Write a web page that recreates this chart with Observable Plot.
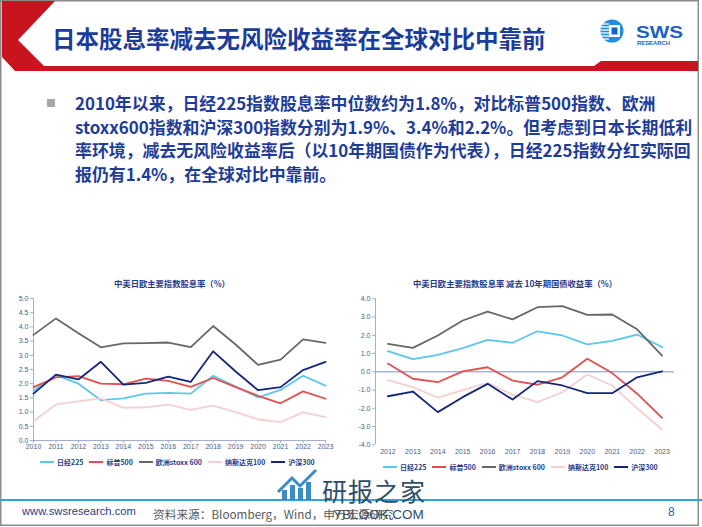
<!DOCTYPE html>
<html><head><meta charset="utf-8">
<script src="https://cdn.jsdelivr.net/npm/d3@7"></script>
<script src="https://cdn.jsdelivr.net/npm/@observablehq/plot@0.6"></script>
<style>
body{margin:0;background:#fff;}
#slide{position:relative;width:702px;height:527px;overflow:hidden;background:#fff;font-family:"Noto Sans CJK SC","Noto Sans",sans-serif;}
.abs{position:absolute;}
.ctr{transform:translate(-50%,-50%);white-space:nowrap;}
#title{left:52px;top:38px;transform:translateY(-50%);font-size:23.5px;font-weight:bold;color:#1b3c9b;white-space:nowrap;}
#para{left:75px;top:91px;font-size:16.9px;line-height:23.7px;font-weight:bold;color:#1f3c99;white-space:nowrap;}
#bullet{left:47px;top:99px;width:8px;height:8px;background:#a6a6a6;}
.ctitle{font-size:8.3px;font-weight:bold;color:#1f3a8a;}
.legend{display:flex;align-items:center;font-size:7px;font-weight:bold;color:#1f3a8a;white-space:nowrap;transform:translateY(-50%);}
.legend .it{display:flex;align-items:center;}
.legend .sw{width:14px;height:2px;margin-right:3px;}
#url{left:22px;top:511px;transform:translateY(-50%);font-family:"Liberation Sans",Arial,sans-serif;font-size:11.2px;color:#1f3c99;}
#src{left:153px;top:513px;transform:translateY(-50%);font-size:11.7px;color:#595959;white-space:nowrap;}
#page{left:668px;top:512px;transform:translateY(-50%);font-family:"Liberation Sans",Arial,sans-serif;font-size:12px;color:#1f5fb4;}
#wm1{left:322px;top:490px;transform:translateY(-50%);font-size:25px;line-height:25px;color:#2d4f6c;letter-spacing:1px;white-space:nowrap;}
#wm2{left:333px;top:514px;transform:translateY(-50%);font-family:"Liberation Sans",Arial,sans-serif;font-size:13.5px;color:#2d4f6c;white-space:nowrap;}
</style></head><body>
<div id="slide">
<svg class="abs" style="left:0;top:0" width="702" height="527">
  <rect x="0.75" y="0.75" width="697.5" height="524.5" fill="none" stroke="#8c8c8c" stroke-width="1.5"/>
  <polygon points="2,1 55,1 18,40 44,66 594,66 601,61 698,61 698,71 15,71 2,57" fill="#c8141e"/>
  <circle cx="612" cy="31" r="11.5" fill="#1e8fe0"/>
  <g stroke="#fff" stroke-width="1.3">
    <line x1="601" y1="24" x2="609" y2="24"/><line x1="600.5" y1="27" x2="609" y2="27"/>
    <line x1="600.5" y1="30" x2="609" y2="30"/><line x1="600.5" y1="33" x2="609" y2="33"/>
    <line x1="600.5" y1="36" x2="609" y2="36"/><line x1="601" y1="39" x2="609" y2="39"/>
  </g>
  <rect x="609" y="25" width="11" height="12" fill="#fff"/>
  <rect x="611.5" y="27.5" width="6" height="7" fill="#1565c8"/>
  <text x="636" y="37.5" font-family="Liberation Sans, Arial" font-weight="bold" font-size="16.7" fill="#1a5fc8" textLength="47" lengthAdjust="spacingAndGlyphs">SWS</text>
  <text x="637" y="45" font-family="Liberation Sans, Arial" font-weight="bold" font-size="5.2" fill="#1a5fc8" textLength="33" lengthAdjust="spacingAndGlyphs">RESEARCH</text>
  <rect x="0" y="499" width="702" height="2" fill="#2fa3de"/>
  <g fill="#3b8cc4">
    <rect x="282" y="490" width="5" height="10"/><rect x="290" y="485" width="5" height="15"/>
    <rect x="298" y="488" width="5" height="12"/><rect x="306" y="482" width="5" height="18"/>
  </g>
  <polyline points="278,492 292,478 300,486 316,470" fill="none" stroke="#3b8cc4" stroke-width="3"/>
</svg>
<div id="title" class="abs">日本股息率减去无风险收益率在全球对比中靠前</div>
<div id="bullet" class="abs"></div>
<div id="para" class="abs">2010年以来，日经225指数股息率中位数约为1.8%，对比标普500指数、欧洲<br>stoxx600指数和沪深300指数分别为1.9%、3.4%和2.2%。但考虑到日本长期低利<br>率环境，减去无风险收益率后（以10年期国债作为代表），日经225指数分红实际回<br>报仍有1.4%，在全球对比中靠前。</div>
<div class="abs ctr ctitle" style="left:172px;top:283px">中美日欧主要指数股息率（%）</div>
<div class="abs ctr ctitle" style="left:515px;top:283px">中美日欧主要指数股息率 减去 10年期国债收益率（%）</div>
<div id="chartA" class="abs" style="left:0;top:288px"></div>
<div id="chartB" class="abs" style="left:340px;top:288px"></div>
<div id="legA" class="abs legend" style="left:40px;top:462px"></div>
<div id="legB" class="abs legend" style="left:383px;top:467px"></div>
<div id="wm1" class="abs">研报之家</div>
<div id="wm2" class="abs">YBLOOK.COM</div>
<div id="url" class="abs">www.swsresearch.com</div>
<div id="src" class="abs">资料来源：Bloomberg，Wind，申万宏源研究</div>
<div id="page" class="abs">8</div>
</div>
<script>
const seriesNames = ["日经225","标普500","欧洲stoxx 600","纳斯达克100","沪深300"];
const seriesColors = ["#5cc6ee","#e0504f","#676767","#f6d0d0","#15267a"];

const yearsA = [2010,2011,2012,2013,2014,2015,2016,2017,2018,2019,2020,2021,2022,2023];
const divNikkei = [1.75,2.30,2.00,1.42,1.48,1.65,1.68,1.65,2.28,1.90,1.52,1.78,2.28,1.93];
const divSP     = [1.88,2.22,2.27,2.00,1.98,2.18,2.10,1.89,2.20,1.88,1.57,1.31,1.73,1.47];
const divStoxx  = [3.72,4.30,3.78,3.28,3.42,3.43,3.45,3.29,4.03,3.38,2.66,2.85,3.56,3.44];
const divNasdaq = [0.68,1.27,1.38,1.48,1.15,1.17,1.26,1.08,1.23,1.00,0.74,0.65,0.99,0.82];
const divCSI    = [1.65,2.32,2.15,2.77,1.97,2.03,2.25,2.06,3.14,2.43,1.77,1.88,2.48,2.77];

const yearsB = [2012,2013,2014,2015,2016,2017,2018,2019,2020,2021,2022,2023];
const exNikkei = [1.13,0.69,0.93,1.30,1.75,1.59,2.22,1.99,1.50,1.70,2.04,1.35];
const exSP     = [0.45,-0.38,-0.57,0.02,0.25,-0.48,-0.71,-0.30,0.71,-0.07,-1.20,-2.52];
const exStoxx  = [1.53,1.31,1.99,2.81,3.30,2.87,3.54,3.60,3.12,3.14,2.33,0.89];
const exNasdaq = [-0.46,-0.84,-1.42,-1.00,-0.60,-1.25,-1.66,-1.12,-0.15,-0.75,-2.00,-3.16];
const exCSI    = [-1.34,-1.08,-2.21,-1.39,-0.66,-1.52,-0.51,-0.75,-1.17,-1.17,-0.30,0.03];

const ticksA = [0,0.5,1,1.5,2,2.5,3,3.5,4,4.5,5];
const ticksB = [-4,-3,-2,-1,0,1,2,3,4];

function rows(years, arrs){
  return seriesNames.flatMap((s,i)=>years.map((y,j)=>({series:s, year:y, value:arrs[i][j]})));
}
const rowsA = rows(yearsA,[divNikkei,divSP,divStoxx,divNasdaq,divCSI]);
const rowsB = rows(yearsB,[exNikkei,exSP,exStoxx,exNasdaq,exCSI]);

const axisStroke = "#a3afcc";
const labelFill = "#4a5b8c";
const fmt = d => d.toFixed(1);

const chartA = Plot.plot({
  width:340, height:166, marginTop:10, marginBottom:14, marginLeft:33, marginRight:15,
  x:{type:"linear", domain:[2010,2023], axis:null},
  y:{domain:[0,5], axis:null},
  color:{domain:seriesNames, range:seriesColors},
  style:{fontFamily:"'Liberation Sans', Arial, sans-serif", fontSize:"7px", background:"transparent", overflow:"visible"},
  marks:[
    Plot.ruleX([2010],{stroke:axisStroke}),
    Plot.ruleY([0],{stroke:axisStroke}),
    Plot.axisY({ticks:ticksA, tickFormat:fmt, tickSize:3, tickPadding:2, stroke:axisStroke, fill:labelFill, label:null}),
    Plot.axisX({ticks:yearsA, tickFormat:d=>String(d), tickSize:3, tickPadding:1, stroke:axisStroke, fill:labelFill, label:null}),
    Plot.line(rowsA,{x:"year", y:"value", z:"series", stroke:"series", strokeWidth:1.8})
  ]
});
document.getElementById("chartA").append(chartA);

const chartB = Plot.plot({
  width:362, height:170, marginTop:10.3, marginBottom:13.7, marginLeft:35, marginRight:28,
  x:{type:"linear", domain:[2011.5,2023.5], axis:null},
  y:{domain:[-4,4], axis:null},
  color:{domain:seriesNames, range:seriesColors},
  style:{fontFamily:"'Liberation Sans', Arial, sans-serif", fontSize:"7px", background:"transparent", overflow:"visible"},
  marks:[
    Plot.ruleX([2011.5],{stroke:axisStroke}),
    Plot.axisY({ticks:ticksB, tickFormat:fmt, tickSize:3, tickPadding:2, stroke:axisStroke, fill:labelFill, label:null}),
    Plot.axisX({ticks:yearsB, tickFormat:d=>String(d), tickSize:0, tickPadding:4, fill:labelFill, label:null}),
    Plot.ruleY([0],{stroke:"#7d92c6"}),
    Plot.line(rowsB,{x:"year", y:"value", z:"series", stroke:"series", strokeWidth:1.8})
  ]
});
document.getElementById("chartB").append(chartB);

function legend(id, gap){
  const el = document.getElementById(id);
  el.style.gap = gap + "px";
  seriesNames.forEach((s,i)=>{
    const it = document.createElement("div"); it.className = "it";
    const sw = document.createElement("div"); sw.className = "sw"; sw.style.background = seriesColors[i];
    const tx = document.createElement("span"); tx.textContent = s;
    it.append(sw, tx); el.append(it);
  });
}
legend("legA", 6);
legend("legB", 6);
</script>
</body></html>
